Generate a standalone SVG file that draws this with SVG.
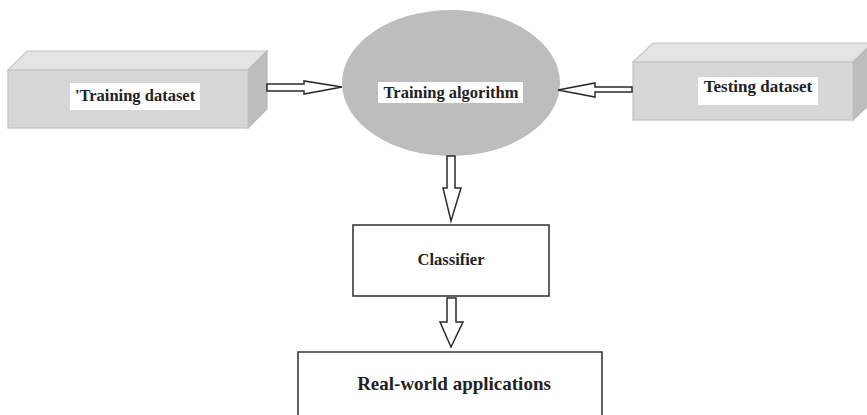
<svg xmlns="http://www.w3.org/2000/svg" width="867" height="415" viewBox="0 0 867 415">
  <style>
    .front { fill: #d7d7d7; stroke: #c4c4c4; stroke-width: 1.2; }
    .top { fill: #e4e4e4; stroke: #c8c8c8; stroke-width: 1.2; }
    .side { fill: #bdbdbd; stroke: #b8b8b8; stroke-width: 1.2; }
    .label-bg { fill: #ffffff; }
    .label { font-family: "Liberation Serif", "DejaVu Serif", serif; font-weight: bold; fill: #222222; text-anchor: middle; }
    .box { fill: #ffffff; stroke: #3a3a3a; stroke-width: 1.6; }
    .arrow { fill: #ffffff; stroke: #2a2a2a; stroke-width: 1.5; stroke-linejoin: miter; }
  </style>
  <rect width="867" height="415" fill="#ffffff"/>

  <!-- Training dataset: 3D block -->
  <g id="training-dataset">
    <polygon class="top" points="8,70 27,51 267,51 248,70"/>
    <polygon class="side" points="248,70 267,51 267,109 248,128"/>
    <rect class="front" x="8" y="70" width="240" height="58"/>
    <rect class="label-bg" x="70" y="83" width="130" height="27"/>
    <text class="label" x="135" y="101" font-size="16.5">'Training dataset</text>
  </g>

  <!-- Training algorithm: ellipse -->
  <g id="training-algorithm">
    <ellipse cx="451" cy="83" rx="109" ry="73" fill="#bdbdbd"/>
    <rect class="label-bg" x="378" y="82" width="145" height="21"/>
    <text class="label" x="451" y="98" font-size="16.5">Training algorithm</text>
  </g>

  <!-- Testing dataset: 3D block -->
  <g id="testing-dataset">
    <polygon class="top" points="633,62 653,43 873,43 853,62"/>
    <polygon class="side" points="853,62 873,43 873,101 853,120"/>
    <rect class="front" x="633" y="62" width="220" height="58"/>
    <rect class="label-bg" x="698" y="77" width="120" height="28"/>
    <text class="label" x="758" y="92" font-size="17">Testing dataset</text>
  </g>

  <!-- Classifier -->
  <g id="classifier">
    <rect class="box" x="353" y="225" width="196" height="71"/>
    <text class="label" x="451" y="265" font-size="16.5">Classifier</text>
  </g>

  <!-- Real-world applications (box runs past the bottom edge) -->
  <g id="real-world-applications">
    <path class="box" d="M298,420 V352 H602 V420"/>
    <text class="label" x="454" y="390" font-size="19">Real-world applications</text>
  </g>

  <!-- Hollow block arrows -->
  <g id="connectors">
    <polygon class="arrow" points="267,84 304,84 304,81 342,87 304,94 304,91 267,91"/>
    <polygon class="arrow" points="632,87 595,87 595,83 558,90 595,97 595,92 632,92"/>
    <polygon class="arrow" points="447,156 455,156 455,188 461,188 451,221 443,188 447,188"/>
    <polygon class="arrow" points="447,298 456,298 456,322 463,322 451,347 440,322 447,322"/>
  </g>
</svg>
